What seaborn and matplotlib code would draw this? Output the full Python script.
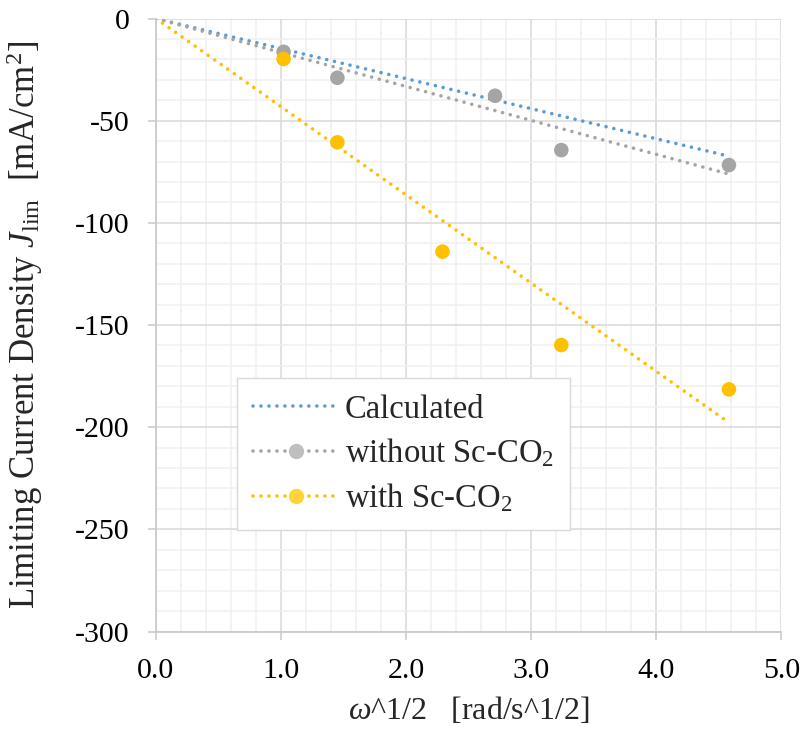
import matplotlib
matplotlib.use("Agg")
import matplotlib.pyplot as plt
import matplotlib.ticker as mticker
from matplotlib.lines import Line2D
import seaborn as sns
import pandas as pd

# ---- data ----
x_without = [1.02, 1.45, 2.71, 3.24, 4.58]
y_without = [-16.3, -29.0, -37.8, -64.4, -71.7]
x_with = [1.02, 1.45, 2.29, 3.24, 4.58]
y_with = [-19.8, -60.6, -114.1, -159.8, -181.5]
# dotted lines (calculated + linear trend lines through origin)
x_calc = [0.0, 4.54]
y_calc = [0.0, -66.8]
x_trend = [0.0, 4.56]
y_trend_without = [0.0, -75.8]
y_trend_with = [0.0, -196.9]

x_ticks = [0.0, 1.0, 2.0, 3.0, 4.0, 5.0]
y_ticks = [0, -50, -100, -150, -200, -250, -300]

labels = ["Calculated", "without Sc-CO$_2$", "with Sc-CO$_2$"]
c_blue = "#5B9BD5"
c_gray = "#A5A5A5"
c_yel = "#FFC000"

sns.set_theme(style="white")
plt.rcParams["font.family"] = ["Liberation Serif", "DejaVu Serif"]
plt.rcParams["mathtext.fontset"] = "custom"
plt.rcParams["mathtext.rm"] = "Liberation Serif"
plt.rcParams["mathtext.it"] = "Liberation Serif:italic"
plt.rcParams["axes.unicode_minus"] = False

fig = plt.figure(figsize=(8.04, 7.44), dpi=100)
ax = fig.add_axes([0.194, 0.1512, 0.778, 0.8239])

df_calc = pd.DataFrame({"x": x_calc, "y": y_calc})
df_tw = pd.DataFrame({"x": x_trend, "y": y_trend_without})
df_tr = pd.DataFrame({"x": x_trend, "y": y_trend_with})
df_w = pd.DataFrame({"x": x_without, "y": y_without})
df_s = pd.DataFrame({"x": x_with, "y": y_with})

for d, c in [(df_calc, c_blue), (df_tw, c_gray), (df_tr, c_yel)]:
    sns.lineplot(data=d, x="x", y="y", ax=ax, color=c, sort=False, legend=False, zorder=3)
for ln in ax.lines:
    ln.set_linewidth(2.6)
    ln.set_dashes((0.01, 2.2))
    ln.set_dash_capstyle("round")

sns.scatterplot(data=df_w, x="x", y="y", ax=ax, color=c_gray, s=110, edgecolor="none", zorder=4, legend=False)
sns.scatterplot(data=df_s, x="x", y="y", ax=ax, color=c_yel, s=110, edgecolor="none", zorder=4, legend=False)

ax.set_xlim(0, 5)
ax.set_ylim(-300, 0)
ax.set_xticks(x_ticks)
ax.set_xticklabels([f"{v:.1f}" for v in x_ticks])
ax.set_yticks(y_ticks)
ax.set_yticklabels([f"{v:d}" for v in y_ticks])
ax.xaxis.set_minor_locator(mticker.MultipleLocator(0.2))
ax.yaxis.set_minor_locator(mticker.MultipleLocator(10))
ax.grid(which="major", color="#D9D9D9", lw=1.1, zorder=0)
ax.grid(which="minor", color="#F0F0F0", lw=1.1, zorder=0)
ax.set_axisbelow(True)

for s in ["top", "right"]:
    ax.spines[s].set_visible(False)
for s in ["left", "bottom"]:
    ax.spines[s].set_color("#C8C8C8")
    ax.spines[s].set_linewidth(1.2)

ax.tick_params(which="major", direction="out", length=6, width=1.1, color="#C8C8C8",
               labelsize=21.5, pad=13, bottom=True, left=True)
ax.tick_params(which="minor", length=0)
for t in ax.get_xticklabels() + ax.get_yticklabels():
    t.set_color("black")

ax.set_xlabel(r"$\omega$^1/2   [rad/s^1/2]", fontsize=23)
ax.set_ylabel(r"Limiting Current Density $J_{\rm lim}$  [mA/cm$^2$]", fontsize=25)
ax.xaxis.set_label_coords(0.5, -0.103)
ax.yaxis.set_label_coords(-0.1775, 0.5)

handles = [
    Line2D([], [], color=c_blue, lw=2.6, dashes=(0.01, 2.2), dash_capstyle="round"),
    Line2D([], [], color=c_gray, lw=2.6, dashes=(0.01, 2.2), dash_capstyle="round",
           marker="o", markersize=11, markerfacecolor="#BFBFBF", markeredgecolor="none"),
    Line2D([], [], color=c_yel, lw=2.6, dashes=(0.01, 2.2), dash_capstyle="round",
           marker="o", markersize=11, markerfacecolor="#FFD43B", markeredgecolor="none"),
]
leg = ax.legend(handles, labels, loc="upper left", bbox_to_anchor=(0.1295, 0.4135),
                borderaxespad=0, fontsize=23.5, handlelength=2.6, handletextpad=0.2,
                labelspacing=0.36, borderpad=0.5, fancybox=False, framealpha=1,
                edgecolor="#D9D9D9")
leg.get_frame().set_linewidth(1.0)

fig.savefig("out.png", dpi=100)
